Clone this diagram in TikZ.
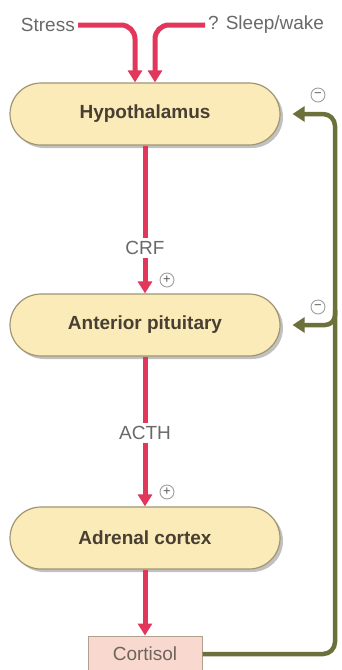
\documentclass[tikz,border=0pt]{standalone}
\usepackage{fontspec}
\setmainfont{Liberation Sans}
\usetikzlibrary{arrows.meta,shadows}
\definecolor{hred}{RGB}{226,55,90}
\definecolor{fbgreen}{RGB}{108,112,58}
\definecolor{boxfill}{RGB}{251,235,184}
\definecolor{boxline}{RGB}{160,150,115}
\definecolor{boxtext}{RGB}{72,62,50}
\definecolor{lbltext}{RGB}{105,105,105}
\definecolor{cortfill}{RGB}{249,217,207}
\definecolor{cortline}{RGB}{176,160,144}
\begin{document}
\begin{tikzpicture}[x=1pt,y=-1pt,
  organ/.style={draw=boxline, line width=1.2pt, fill=boxfill, rounded corners=31pt,
    minimum width=270pt, minimum height=62pt,
    font=\fontsize{19}{22}\selectfont\bfseries, text=boxtext,
    drop shadow={shadow xshift=3pt, shadow yshift=-3pt, fill=black!40, opacity=0.6}},
  cortbox/.style={draw=cortline, line width=1pt, fill=cortfill,
    minimum width=114pt, minimum height=36pt,
    font=\fontsize{19}{22}\selectfont, text=boxtext!80},
  lbl/.style={font=\fontsize{19}{22}\selectfont, text=lbltext, inner sep=3pt},
  sign/.style={circle, draw=gray!75, line width=0.9pt, inner sep=0pt, minimum size=14pt,
    font=\fontsize{13}{13}\selectfont, text=gray!70!black},
  hline/.style={draw=hred, line width=5pt},
  htip/.style={-{Triangle[width=14pt,length=12pt]}},
  fb/.style={draw=fbgreen, line width=4.5pt, -{Triangle[width=15pt,length=12pt]}, shorten >=12pt}
]
\clip (0,0) rectangle (341,670);
\fill[white] (0,0) rectangle (341,670);

\node[lbl, anchor=east] (stress) at (78,25) {Stress};
\node[lbl, anchor=west] (sleep) at (205,25) {? Sleep/wake};
\node[organ] (hyp) at (145,114) {Hypothalamus};
\node[organ] (ant) at (145,325) {Anterior pituitary};
\node[organ] (adr) at (145,538) {Adrenal cortex};
\node[cortbox] (cort) at (145,654) {Cortisol};
\node[lbl] (crf) at (145,248) {CRF};
\node[lbl] (acth) at (145,433) {ACTH};
\node[sign] (p1) at (167,280) {+};
\node[sign] (p2) at (167,492) {+};
\node[sign] (m1) at (318,95) {−};
\node[sign] (m2) at (318,307) {−};

\draw[hline, htip, rounded corners=14pt] (stress.east) -| ([xshift=-10pt]hyp.north);
\draw[hline, htip, rounded corners=14pt] (sleep.west) -| ([xshift=10pt]hyp.north);

\draw[hline] (hyp.south) -- (crf.north);
\draw[hline, htip] (crf.south) -- (ant.north);
\draw[hline] (ant.south) -- (acth.north);
\draw[hline, htip] (acth.south) -- (adr.north);
\draw[hline, htip] (adr.south) -- (cort.north);

\coordinate (fbtop) at (335,114);
\coordinate (fbmid) at (335,310);
\draw[fb, rounded corners=12pt] (cort.east) -| (fbtop) -- (hyp.east);
\draw[fb, rounded corners=10pt] (fbmid) |- (ant.east);
\end{tikzpicture}
\end{document}
